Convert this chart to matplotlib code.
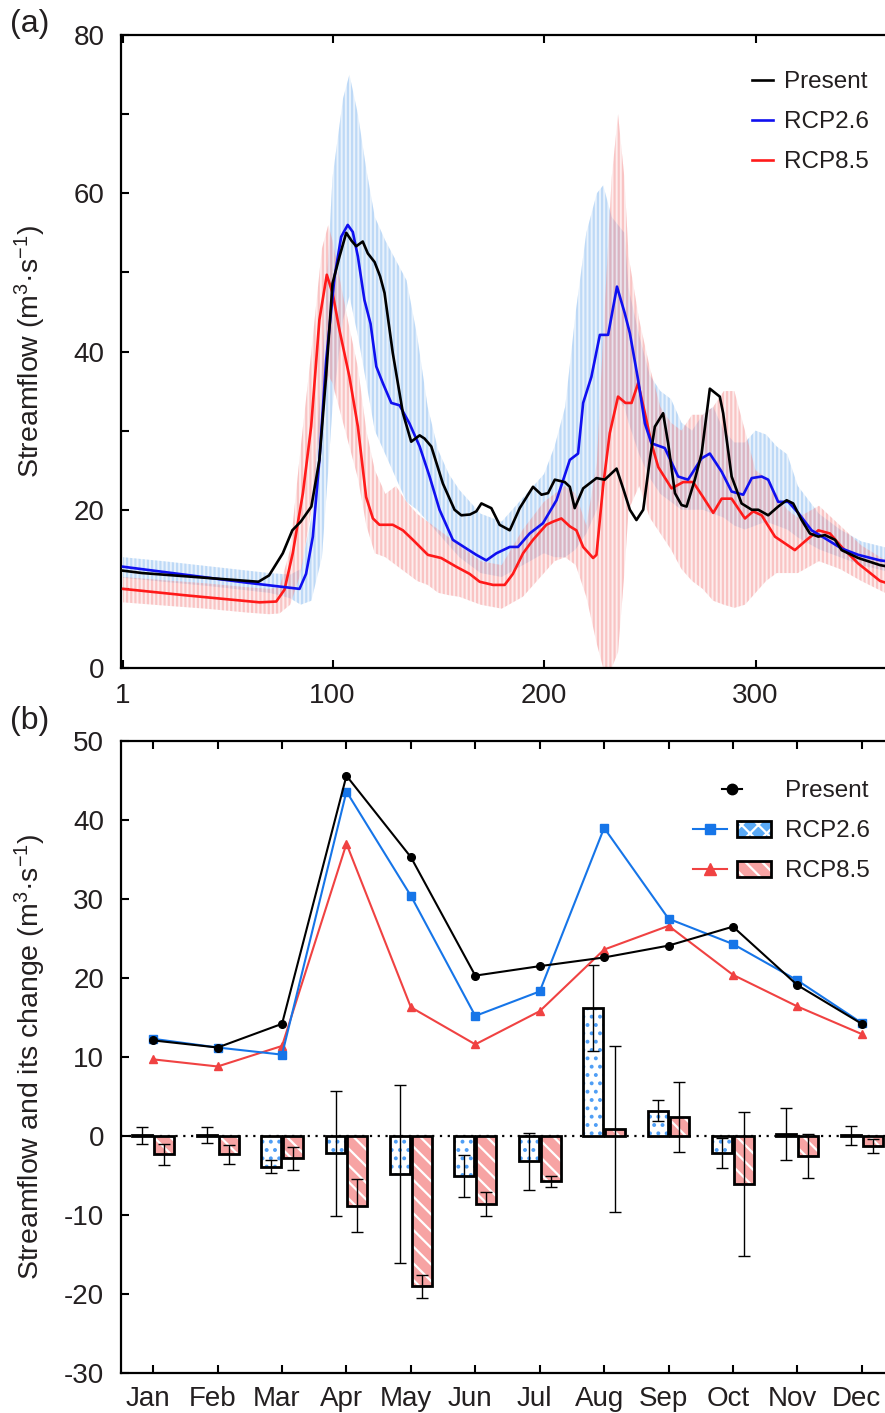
import matplotlib
matplotlib.use('Agg')
import matplotlib.pyplot as plt
import matplotlib.transforms as mtrans
from matplotlib.lines import Line2D
from matplotlib.patches import Patch
from matplotlib.legend_handler import HandlerTuple

plt.rcParams['font.family'] = ['Liberation Sans', 'DejaVu Sans']
plt.rcParams['mathtext.default'] = 'regular'
plt.rcParams['axes.unicode_minus'] = False
plt.rcParams['hatch.linewidth'] = 1.6

TXT = '#231f20'

# ---------------- panel (a) data ----------------
present_day = [1, 10, 30, 50, 65, 70, 76.5, 81, 85, 90, 93.8, 97, 100, 103.3, 106.5, 109, 111.2,
               114.3, 116.7, 119.9, 122.5, 124.6, 128.5, 133.3, 137.2, 141.2, 143.5, 146.7, 152.2,
               157.7, 160.9, 165, 168, 170.4, 175.1, 179, 183.8, 188.5, 194.8, 198.8, 201.9, 205.1,
               209.8, 212.2, 214.5, 218.5, 224.8, 228.7, 234.3, 237.4, 240.6, 243.7, 246.9, 250,
               252.4, 256.3, 258.7, 261.9, 265, 267.4, 271.3, 274.5, 278.4, 283.1, 284.7, 288.7,
               293.4, 298.2, 301.3, 306, 310.7, 314.7, 317.8, 321.8, 325.7, 329.7, 332.8, 337.6,
               340.7, 348.6, 358.9, 365]
present_q = [12.3, 12.0, 11.6, 11.2, 10.9, 11.7, 14.5, 17.4, 18.5, 20.4, 26.3, 37.0, 48.6, 52.0,
             55.0, 54.0, 53.3, 53.9, 52.4, 51.3, 49.5, 47.4, 39.8, 32.2, 28.6, 29.4, 29.0, 28.0,
             23.3, 20.0, 19.3, 19.4, 19.8, 20.8, 20.2, 18.1, 17.4, 20.2, 22.9, 21.9, 22.1, 23.8,
             23.5, 22.9, 20.2, 22.7, 24.0, 23.8, 25.2, 22.7, 20.0, 18.7, 20.0, 26.3, 30.5, 32.2,
             28.4, 22.1, 20.6, 20.4, 23.8, 27.1, 35.3, 34.3, 32.2, 24.2, 20.8, 20.0, 20.0, 19.3,
             20.4, 21.2, 20.8, 18.7, 17.0, 16.6, 16.8, 16.2, 14.9, 13.9, 13.0, 12.7]

rcp26_day = [1, 30, 59, 84.4, 87.5, 90.7, 93.8, 97, 101, 104.1, 107.2, 109.6, 112, 115.1, 118,
             120.7, 123.8, 127.8, 131.7, 136.4, 141.2, 145.9, 150.6, 156.9, 163.3, 168, 172.7,
             177.5, 183.8, 187.7, 193.2, 199.5, 205.9, 212.2, 216.1, 218.5, 222.4, 226.4, 230.3,
             234.5, 238.2, 240.6, 244.5, 247.7, 250.8, 257.1, 263.4, 268.1, 274.5, 278.4, 284,
             288.7, 294.2, 298.2, 302.9, 306, 310.7, 315.5, 320.2, 326.5, 332.8, 340.7, 348.6,
             358.9, 365]
rcp26_q = [12.8, 11.8, 10.8, 10.0, 11.9, 16.6, 26.3, 38.9, 49.5, 54.5, 56.0, 55.1, 52.0, 46.5,
           43.5, 38.1, 36.0, 33.5, 33.2, 30.9, 28.0, 24.2, 20.0, 16.2, 15.1, 14.3, 13.6, 14.5,
           15.3, 15.3, 17.0, 18.3, 21.2, 26.3, 27.1, 33.5, 36.8, 42.1, 42.1, 48.2, 44.8, 42.3,
           36.4, 30.9, 28.4, 27.8, 24.2, 23.8, 26.5, 27.1, 24.8, 22.3, 21.9, 24.0, 24.2, 23.8,
           21.0, 21.0, 19.6, 17.4, 16.4, 15.1, 14.3, 13.6, 13.4]

rcp85_day = [1, 30, 65.5, 73.4, 77.3, 81.2, 86, 89.9, 93.8, 97.3, 100.1, 103.3, 108, 112, 115.9,
             119.1, 122.2, 128.5, 133.3, 138, 145.1, 151.4, 158.5, 164.8, 169.6, 175.9, 181.4,
             185.3, 190.1, 194.8, 201.1, 204.3, 208.2, 212.2, 215.3, 218.5, 223.2, 224.8, 227.9,
             231.1, 235, 238.5, 241.4, 244.5, 247.7, 250.8, 254, 260.3, 265.8, 270.5, 275.2, 280,
             284, 288.7, 295, 298.9, 302.9, 309.2, 318.6, 324.2, 329.7, 335.2, 340.7, 348.6,
             358.9, 365]
rcp85_q = [10.0, 9.2, 8.3, 8.4, 9.9, 14.5, 22.1, 30.5, 44.0, 49.7, 47.3, 42.7, 36.8, 30.5, 21.6,
           18.9, 18.1, 18.1, 17.4, 16.2, 14.3, 13.9, 12.8, 11.9, 10.9, 10.5, 10.5, 11.9, 14.5,
           16.2, 18.1, 18.5, 18.9, 17.9, 17.4, 15.3, 13.9, 14.3, 22.9, 29.7, 34.3, 33.5, 33.5,
           36.0, 32.2, 28.4, 25.4, 22.7, 23.5, 23.5, 21.6, 19.6, 21.4, 21.4, 18.9, 19.8, 19.3,
           16.6, 14.9, 16.2, 17.4, 17.0, 15.3, 13.2, 11.0, 10.5]

band_day = [1, 20, 40, 60, 70, 75, 80, 85, 90, 95, 98, 100, 105, 108, 112, 116, 120, 125, 130, 135,
            140, 145, 150, 155, 160, 170, 180, 190, 200, 205, 210, 215, 220, 225, 228, 230, 232,
            235, 238, 240, 245, 250, 255, 260, 265, 270, 275, 280, 285, 290, 295, 300, 305, 310,
            315, 320, 330, 340, 350, 365]
rcp26_hi = [14.0, 13.5, 12.9, 12.3, 12.0, 11.9, 11.8, 12.5, 19, 38, 52, 62, 72, 75, 70, 63, 57, 54,
            51.5, 49, 42, 33, 27.5, 24.5, 22.5, 19.5, 18.5, 21.5, 24.5, 28, 33, 45, 55, 60, 61, 59,
            57, 56, 55, 48, 42, 37, 35, 34, 31, 30, 32, 33, 30, 28.5, 28.5, 30, 29.5, 28, 27, 23,
            19.5, 17.5, 16, 15]
rcp26_lo = [11.4, 10.9, 10.4, 9.8, 9.5, 9.2, 8.8, 8.0, 8.5, 14, 25, 33, 44, 47, 42, 36, 30, 27, 24,
            21, 20, 18.5, 17, 15.5, 14, 12, 11.5, 13, 14.5, 14, 14, 15, 17, 20, 24, 28, 31, 34, 33,
            31, 27, 24, 22, 21, 20, 20, 20, 19.5, 19, 18, 17.5, 18, 18.5, 18, 17.5, 16.5, 15, 14,
            13, 12]
rcp85_hi = [11.5, 11.1, 10.7, 10.2, 10.0, 10.2, 15, 28, 40, 53, 56, 54, 47, 43, 38, 30, 25, 22, 23,
            21, 19.5, 18.5, 17.5, 16.5, 15.5, 13.5, 13, 17.5, 21, 22, 23, 22, 18, 26, 42, 52, 62,
            70, 62, 52, 44, 38, 33, 31, 30, 32, 32, 33, 35, 35, 30, 25, 24, 22, 20, 19, 20.5, 18,
            15.5, 13]
rcp85_lo = [8.3, 7.9, 7.5, 7.0, 6.8, 6.9, 8, 12, 20, 32, 37, 36, 31, 28, 24, 18, 14.5, 14, 13, 12,
            11, 10.5, 9.5, 9.2, 9, 8, 7.5, 9, 12, 13.5, 14, 13, 9, 3, 0, 0, 0, 2, 12, 20, 23, 19,
            17, 15, 12.5, 11, 10, 8.5, 8, 7.6, 8, 9.5, 11, 12, 12, 12, 13.5, 12.5, 11, 9]

# ---------------- panel (b) data ----------------
months = ['Jan', 'Feb', 'Mar', 'Apr', 'May', 'Jun', 'Jul', 'Aug', 'Sep', 'Oct', 'Nov', 'Dec']
present_m = [12.1, 11.2, 14.2, 45.6, 35.3, 20.3, 21.5, 22.6, 24.1, 26.5, 19.1, 14.2]
rcp26_m = [12.3, 11.2, 10.3, 43.6, 30.4, 15.2, 18.3, 39.0, 27.5, 24.3, 19.7, 14.3]
rcp85_m = [9.7, 8.8, 11.4, 37.0, 16.3, 11.6, 15.8, 23.6, 26.6, 20.4, 16.4, 12.9]
chg26 = [0.1, 0.1, -3.9, -2.2, -4.8, -5.1, -3.2, 16.2, 3.2, -2.2, 0.3, 0.1]
err26 = [1.1, 1.0, 0.8, 7.9, 11.3, 2.65, 3.6, 5.4, 1.3, 1.9, 3.3, 1.2]
chg85 = [-2.3, -2.3, -2.8, -8.8, -19.0, -8.6, -5.7, 0.9, 2.4, -6.1, -2.5, -1.3]
err85 = [1.35, 1.2, 1.45, 3.3, 1.45, 1.55, 0.7, 10.5, 4.4, 9.1, 2.8, 0.9]

W, H = 885, 1413
fig = plt.figure(figsize=(W / 100, H / 100), dpi=100)

def frac(l, t, r, b):
    return [l / W, 1 - b / H, (r - l) / W, (b - t) / H]

axA = fig.add_axes(frac(121, 35, 893, 668))
axB = fig.add_axes(frac(121, 741, 894, 1373))

# ---------- panel a ----------
c_blue_band = (0.58, 0.76, 0.95)
c_red_band = (0.96, 0.58, 0.58)
axA.fill_between(band_day, rcp26_lo, rcp26_hi, facecolor=c_blue_band + (0.2,),
                 edgecolor=c_blue_band + (0.5,), hatch='||||', linewidth=0, zorder=1)
axA.fill_between(band_day, rcp85_lo, rcp85_hi, facecolor=c_red_band + (0.16,),
                 edgecolor=c_red_band + (0.45,), hatch='||||', linewidth=0, zorder=1.1)
axA.plot(rcp85_day, rcp85_q, color='#ff1a1a', lw=1.9, zorder=3)
axA.plot(rcp26_day, rcp26_q, color='#1010f0', lw=1.9, zorder=3.1)
axA.plot(present_day, present_q, color='black', lw=1.9, zorder=3.2)

axA.set_xlim(0, 365)
axA.set_ylim(0, 80)
axA.set_xticks([1, 100, 200, 300])
axA.set_yticks([0, 20, 40, 60, 80])
axA.set_yticks([10, 30, 50, 70], minor=True)
axA.tick_params(axis='both', which='both', direction='in', length=6, width=1.5,
                labelsize=20, labelcolor=TXT, top=True, right=False)
axA.tick_params(axis='x', pad=11)
axA.tick_params(axis='y', which='both', pad=12)
for s in axA.spines.values():
    s.set_linewidth(1.6)
axA.set_ylabel('Streamflow (m$^{3}$·s$^{-1}$)', fontsize=20.5, color=TXT)
axA.yaxis.set_label_coords(-0.0946, 0.5)

legA_handles = [Line2D([], [], color='black', lw=1.9),
                Line2D([], [], color='#1010f0', lw=1.9),
                Line2D([], [], color='#ff1a1a', lw=1.9)]
axA.legend(legA_handles, ['Present', 'RCP2.6', 'RCP8.5'], loc='upper left',
           bbox_to_anchor=(752 / W, 1 - 71 / H), bbox_transform=fig.transFigure,
           frameon=False, fontsize=17.5, handlelength=0.85, handletextpad=0.45,
           labelspacing=0.75, borderpad=0, borderaxespad=0, labelcolor=TXT)

# ---------- panel b ----------
x = list(range(1, 13))
bw = 0.31
off = 0.17
c26 = '#1675e8'
c85 = '#f04242'
dot_blue = '#4f9ef5'
pink = '#f7a3a3'

x26 = [v - off for v in x]
x85 = [v + off for v in x]

axB.axhline(0, color='black', lw=1.6, ls=(0, (1, 2.5)), zorder=1)
axB.bar(x26, chg26, width=bw, color='white', edgecolor=dot_blue, hatch='..', linewidth=0, zorder=2)
axB.bar(x26, chg26, width=bw, fill=False, edgecolor='black', linewidth=2.0, zorder=2.2)
axB.bar(x85, chg85, width=bw, color=pink, edgecolor='white', hatch='\\\\', linewidth=0, zorder=2)
axB.bar(x85, chg85, width=bw, fill=False, edgecolor='black', linewidth=2.0, zorder=2.2)
axB.errorbar(x26, chg26, yerr=err26, fmt='none', ecolor='black', elinewidth=1.0,
             capsize=4, capthick=1.0, zorder=2.5)
axB.errorbar(x85, chg85, yerr=err85, fmt='none', ecolor='black', elinewidth=1.0,
             capsize=4, capthick=1.0, zorder=2.5)

axB.plot(x, rcp85_m, color=c85, lw=1.5, marker='^', ms=6, zorder=4)
axB.plot(x, rcp26_m, color=c26, lw=1.5, marker='s', ms=5.5, zorder=4.1)
axB.plot(x, present_m, color='black', lw=1.5, marker='o', ms=5.5, zorder=4.2)

axB.set_xlim(0.5, 12.5)
axB.set_ylim(-30, 50)
axB.set_xticks(x)
axB.set_xticklabels(months)
axB.set_yticks(range(-30, 51, 10))
axB.tick_params(axis='both', direction='in', length=6, width=1.5, labelsize=20,
                labelcolor=TXT, top=True, right=False)
axB.tick_params(axis='x', pad=9.5)
axB.tick_params(axis='y', pad=12)
for s in axB.spines.values():
    s.set_linewidth(1.6)
axB.set_ylabel('Streamflow and its change (m$^{3}$·s$^{-1}$)', fontsize=20.5, color=TXT)
axB.yaxis.set_label_coords(-0.0946, 0.5)
shift = mtrans.ScaledTranslation(-5 / 100, 0, fig.dpi_scale_trans)
for lab in axB.get_xticklabels():
    lab.set_transform(lab.get_transform() + shift)

blank = Line2D([], [], linestyle='none')
h_present = (blank, Line2D([], [], color='black', lw=1.5, marker='o', ms=7.5), Line2D([], [], linestyle='none'))
h26 = (Line2D([], [], color=c26, lw=1.5, marker='s', ms=7.5),
       (Patch(facecolor='#5aaaf7', edgecolor='white', hatch='xx', linewidth=0),
        Patch(fill=False, edgecolor='black', linewidth=2.0)))
h85 = (Line2D([], [], color=c85, lw=1.5, marker='^', ms=8),
       (Patch(facecolor=pink, edgecolor='white', hatch='\\\\', linewidth=0),
        Patch(fill=False, edgecolor='black', linewidth=2.0)))
tup = HandlerTuple(ndivide=None, pad=0.4)
axB.legend([h_present, h26, h85], ['Present', 'RCP2.6', 'RCP8.5'], loc='upper left',
           bbox_to_anchor=(693 / W, 1 - 780 / H), bbox_transform=fig.transFigure,
           handler_map={h_present: tup, h26: tup, h85: tup},
           frameon=False, fontsize=17.5, handlelength=3.2, handleheight=0.65,
           handletextpad=0.6, labelspacing=0.75, borderpad=0, borderaxespad=0,
           labelcolor=TXT)

fig.text(10 / W, 1 - 24 / H, '(a)', fontsize=23, color=TXT, va='center', ha='left')
fig.text(10 / W, 1 - 721 / H, '(b)', fontsize=23, color=TXT, va='center', ha='left')

fig.savefig('out.png', dpi=100)
